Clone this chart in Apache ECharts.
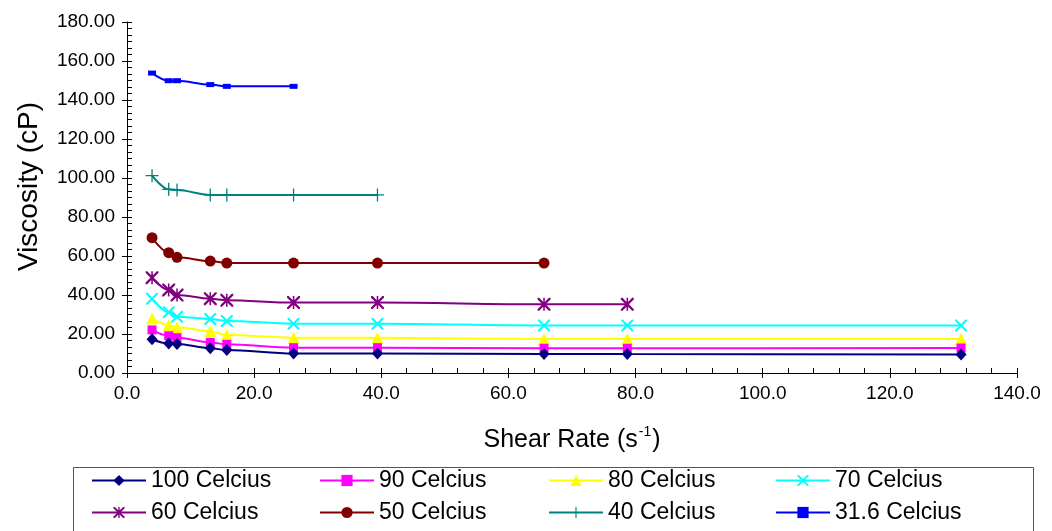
<!DOCTYPE html>
<html>
<head>
<meta charset="utf-8">
<script src="https://cdn.jsdelivr.net/npm/echarts@6/dist/echarts.min.js"></script>
<style>html,body{margin:0;padding:0;background:#fff}#c{width:1052px;height:531px}</style>
</head>
<body>
<div id="c"></div>
<script>
// Shear rates (s^-1)
const shearRates = [3.94, 6.56, 7.87, 13.1, 15.7, 26.2, 39.4, 65.6, 78.7, 131.2];
// Viscosity (cP) per temperature
const v100 = [17.3, 15.1, 14.9, 12.7, 11.8, 10.0, 10.0, 9.8, 9.7, 9.5];
const v90  = [22.1, 19.1, 18.1, 15.7, 14.7, 13.0, 13.0, 12.7, 12.7, 12.8];
const v80  = [28.0, 24.6, 23.4, 21.4, 19.5, 18.1, 18.1, 17.4, 17.4, 17.4];
const v70  = [38.1, 31.1, 28.9, 27.7, 26.7, 25.3, 25.3, 24.4, 24.4, 24.4];
const v60  = [48.9, 42.6, 40.0, 38.1, 37.3, 36.1, 36.1, 35.2, 35.2];
const v50  = [69.4, 61.7, 59.3, 57.4, 56.4, 56.4, 56.4, 56.4];
const v40  = [101.2, 94.2, 93.8, 91.3, 91.3, 91.3, 91.3];
const v316 = [153.8, 149.9, 149.9, 147.9, 147.0, 147.0];
const seriesNames = ['100 Celcius','90 Celcius','80 Celcius','70 Celcius','60 Celcius','50 Celcius','40 Celcius','31.6 Celcius'];
const xTicks = [0, 20, 40, 60, 80, 100, 120, 140];
const yTicks = [0, 20, 40, 60, 80, 100, 120, 140, 160, 180];

const FONT = '"Liberation Sans", Arial, sans-serif';
const X_PATH = 'path://M0,0 L2.5,0 L10,7.5 L17.5,0 L20,0 L20,2.5 L12.5,10 L20,17.5 L20,20 L17.5,20 L10,12.5 L2.5,20 L0,20 L0,17.5 L7.5,10 L0,2.5 Z';
const AST_PATH = 'path://M0,0 L2.5,0 L10,7.5 L17.5,0 L20,0 L20,2.5 L12.5,10 L20,17.5 L20,20 L17.5,20 L10,12.5 L2.5,20 L0,20 L0,17.5 L7.5,10 L0,2.5 Z M8.8,0 L11.2,0 L11.2,20 L8.8,20 Z';
const PLUS_PATH = 'path://M9,0 L11,0 L11,9 L20,9 L20,11 L11,11 L11,20 L9,20 L9,11 L0,11 L0,9 L9,9 Z';

const values = [v100, v90, v80, v70, v60, v50, v40, v316];
const styles = [
  {color:'#000080', symbol:'diamond', size:[11,12]},
  {color:'#FF00FF', symbol:'rect', size:9},
  {color:'#FFFF00', symbol:'triangle', size:12},
  {color:'#00FFFF', symbol:X_PATH, size:12},
  {color:'#800080', symbol:AST_PATH, size:13},
  {color:'#800000', symbol:'circle', size:11},
  {color:'#008080', symbol:PLUS_PATH, size:13},
  {color:'#0000FF', symbol:'rect', size:[8,5]}
];

const series = values.map((vals, i) => ({
  name: seriesNames[i],
  type: 'line',
  xAxisIndex: 0, yAxisIndex: 0,
  data: vals.map((v, j) => [shearRates[j], v]),
  smooth: 0.35,
  smoothMonotone: 'x',
  symbol: styles[i].symbol,
  symbolSize: styles[i].size,
  showAllSymbol: true,
  lineStyle: {color: styles[i].color, width: 2},
  itemStyle: {color: styles[i].color, opacity: 1},
  emphasis: {disabled: true},
  z: 10 - i
}));

const colX = [91, 319, 548, 775];
const rowY = [469, 501];
const legends = seriesNames.map((n, i) => ({
  data: [n],
  left: colX[i % 4],
  top: rowY[Math.floor(i / 4)],
  padding: 0,
  itemWidth: 54,
  itemHeight: 14,
  itemGap: 0,
  selectedMode: false,
  textStyle: {fontFamily: FONT, fontSize: 23, color: '#000'}
}));

const axisLbl = {fontFamily: FONT, fontSize: 19, color: '#000'};
const option = {
  animation: false,
  backgroundColor: '#fff',
  grid: {left: 127, right: 35, top: 22, bottom: 158, containLabel: false},
  legend: legends,
  graphic: [{
    type: 'rect', left: 71, top: 465, silent: true,
    shape: {width: 960, height: 80},
    style: {fill: 'none', stroke: '#555', lineWidth: 1}
  }],
  xAxis: [{
    type: 'value', min: xTicks[0], max: xTicks[xTicks.length - 1], interval: 20,
    position: 'bottom',
    axisLine: {show: true, lineStyle: {color: '#000', width: 1}},
    axisTick: {show: true, inside: false, length: 5, lineStyle: {color: '#000'}},
    splitLine: {show: false},
    axisLabel: Object.assign({margin: 11, formatter: v => v.toFixed(1)}, axisLbl),
    name: '{a|Shear Rate (s}{b|-1}{a|)}',
    nameLocation: 'middle', nameGap: 52,
    nameTextStyle: {rich: {
      a: {fontFamily: FONT, fontSize: 25, color: '#000', lineHeight: 30},
      b: {fontFamily: FONT, fontSize: 14, color: '#000', verticalAlign: 'top', lineHeight: 14, padding: [0, 1, 0, 1]}
    }}
  }, {
    type: 'value', min: xTicks[0], max: xTicks[xTicks.length - 1], interval: 20,
    position: 'bottom', gridIndex: 0,
    axisLine: {show: false},
    axisTick: {show: true, inside: true, length: 5, lineStyle: {color: '#000'}},
    minorTick: {show: true, splitNumber: 5, length: 5, lineStyle: {color: '#000'}},
    axisLabel: {show: false}, splitLine: {show: false}
  }],
  yAxis: [{
    type: 'value', min: yTicks[0], max: yTicks[yTicks.length - 1], interval: 20,
    position: 'left',
    axisLine: {show: true, lineStyle: {color: '#000', width: 1}},
    axisTick: {show: true, inside: false, length: 5, lineStyle: {color: '#000'}},
    splitLine: {show: false},
    axisLabel: Object.assign({margin: 12, formatter: v => v.toFixed(2)}, axisLbl),
    name: 'Viscosity (cP)',
    nameLocation: 'middle', nameGap: 84,
    nameTextStyle: {fontFamily: FONT, fontSize: 28, color: '#000', padding: [0, 0, 0, 22]}
  }, {
    type: 'value', min: yTicks[0], max: yTicks[yTicks.length - 1], interval: 20,
    position: 'left', gridIndex: 0,
    axisLine: {show: false},
    axisTick: {show: true, inside: true, length: 5, lineStyle: {color: '#000'}},
    minorTick: {show: true, splitNumber: 6, length: 5, lineStyle: {color: '#000'}},
    axisLabel: {show: false}, splitLine: {show: false}
  }],
  series: series
};
const chart = echarts.init(document.getElementById('c'), null, {renderer: 'canvas'});
chart.setOption(option);
</script>
</body>
</html>
